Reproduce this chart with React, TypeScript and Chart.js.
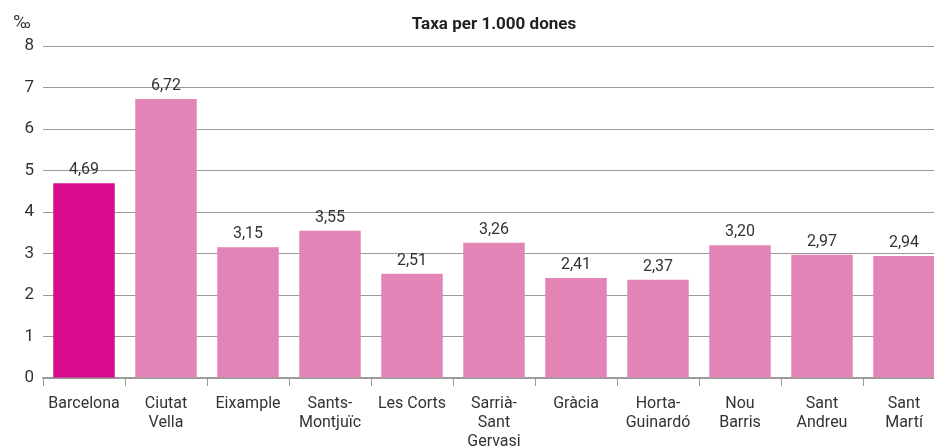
import React, { useEffect, useRef } from "react";
import { Chart, registerables } from "chart.js";

Chart.register(...registerables);

const categories: (string | string[])[] = [
  "Barcelona",
  ["Ciutat", "Vella"],
  "Eixample",
  ["Sants-", "Montjuïc"],
  "Les Corts",
  ["Sarrià-", "Sant", "Gervasi"],
  "Gràcia",
  ["Horta-", "Guinardó"],
  ["Nou", "Barris"],
  ["Sant", "Andreu"],
  ["Sant", "Martí"],
];
const values = [4.69, 6.72, 3.15, 3.55, 2.51, 3.26, 2.41, 2.37, 3.2, 2.97, 2.94];
const barColors = [
  "#D80B8C", "#E384B6", "#E384B6", "#E384B6", "#E384B6", "#E384B6",
  "#E384B6", "#E384B6", "#E384B6", "#E384B6", "#E384B6",
];
const titleText = "Taxa per 1.000 dones";
const unitText = "‰";

const FONT = "Roboto, 'Noto Sans', sans-serif";

const labelsPlugin = {
  id: "customLabels",
  afterDatasetsDraw(chart: any) {
    const ctx = chart.ctx;
    const meta = chart.getDatasetMeta(0);
    ctx.save();
    ctx.fillStyle = "#333333";
    ctx.font = `16px ${FONT}`;
    ctx.textAlign = "center";
    ctx.textBaseline = "alphabetic";
    meta.data.forEach((bar: any, i: number) => {
      ctx.fillText(values[i].toFixed(2).replace(".", ","), bar.x, bar.y - 9);
    });
    // title
    const ca = chart.chartArea;
    ctx.font = `bold 17px ${FONT}`;
    ctx.fillStyle = "#222222";
    ctx.textBaseline = "middle";
    ctx.fillText(titleText, (ca.left + ca.right) / 2, 25);
    // unit
    ctx.font = `18px ${FONT}`;
    ctx.fillStyle = "#333333";
    ctx.textAlign = "center";
    ctx.fillText(unitText, 22, 23);
    ctx.restore();
  },
};

export default function App() {
  const ref = useRef<HTMLCanvasElement>(null);
  useEffect(() => {
    if (!ref.current) return;
    const chart = new Chart(ref.current, {
      type: "bar",
      data: {
        labels: categories,
        datasets: [
          {
            data: values,
            backgroundColor: barColors,
            barPercentage: 0.75,
            categoryPercentage: 1,
          },
        ],
      },
      options: {
        animation: false,
        responsive: false,
        maintainAspectRatio: false,
        layout: { padding: { top: 46, left: 0, right: 0, bottom: 0 } },
        plugins: {
          legend: { display: false },
          title: { display: false },
          tooltip: { enabled: false },
        },
        scales: {
          x: {
            afterFit: (s: any) => {
              s.height = 68;
            },
            grid: {
              offset: true,
              drawOnChartArea: false,
              drawTicks: true,
              tickLength: 8,
              color: "#9a9a9a",
            },
            border: { color: "#9a9a9a", width: 1.5 },
            ticks: {
              color: "#333333",
              font: { family: FONT, size: 16, lineHeight: 1.2 },
              padding: 8,
              maxRotation: 0,
              autoSkip: false,
            },
          },
          y: {
            min: 0,
            max: 8,
            afterFit: (s: any) => {
              s.width = 43;
            },
            grid: { color: "#9a9a9a", drawTicks: false, lineWidth: 1 },
            border: { display: false },
            ticks: {
              stepSize: 1,
              color: "#333333",
              font: { family: FONT, size: 17 },
              padding: 9,
            },
          },
        },
      },
      plugins: [labelsPlugin],
    });
    return () => chart.destroy();
  }, []);
  return (
    <div
      style={{
        position: "absolute",
        left: 0,
        top: 0,
        width: 934,
        height: 446,
        overflow: "hidden",
      }}
    >
      <canvas ref={ref} width={945} height={446} style={{ display: "block" }} />
    </div>
  );
}
